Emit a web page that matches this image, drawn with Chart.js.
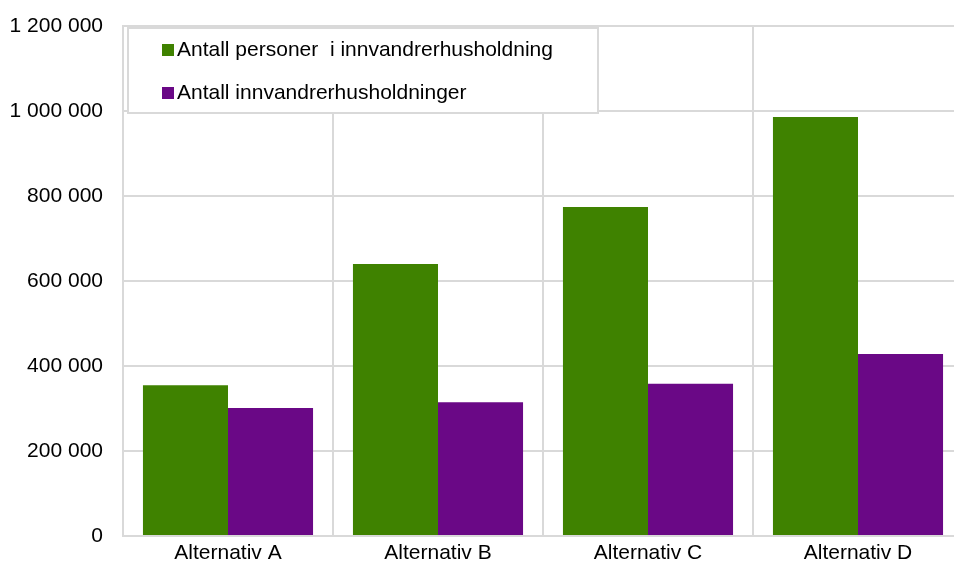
<!DOCTYPE html>
<html lang="no">
<head>
<meta charset="UTF-8">
<title>Innvandrerhusholdninger</title>
<script src="https://cdn.jsdelivr.net/npm/chart.js@4"></script>
<style>
    html, body { margin: 0; padding: 0; background: #fff; overflow: hidden; }
    .wrap { width: 954px; height: 561px; overflow: hidden; position: relative; }
    canvas { display: block; }
</style>
</head>
<body>
<div class="wrap">
    <canvas id="graf" width="965" height="561"></canvas>
</div>
<script>
    const kategorier = ['Alternativ A', 'Alternativ B', 'Alternativ C', 'Alternativ D']
    const personer = [355000, 640000, 774000, 986000]
    const husholdninger = [301000, 315000, 358000, 428000]
    const yTicks = [0, 200000, 400000, 600000, 800000, 1000000, 1200000]

    const gronn = '#3f8200'
    const lilla = '#6a0886'
    const rutenett = '#d9d9d9'
    const skrift = "'Liberation Sans', Arial, sans-serif"

    function formatTall(v) {
        return String(v).replace(/\B(?=(\d{3})+(?!\d))/g, ' ')
    }

    // tegner forklaringen som en hvit boks oppe til venstre i plottet
    const boksForklaring = {
        id: 'boksForklaring',
        afterDraw(chart) {
            const ctx = chart.ctx
            const x = 128, y = 28, w = 470, h = 85
            ctx.save()
            ctx.fillStyle = '#fff'
            ctx.fillRect(x, y, w, h)
            ctx.strokeStyle = rutenett
            ctx.lineWidth = 2
            ctx.strokeRect(x, y, w, h)
            ctx.font = '21px ' + skrift
            ctx.textBaseline = 'middle'
            chart.data.datasets.forEach((ds, i) => {
                const cy = 50 + i * 43
                ctx.fillStyle = ds.backgroundColor
                ctx.fillRect(162, cy - 6, 12, 12)
                ctx.fillStyle = '#000'
                ctx.fillText(ds.label, 177, cy)
            })
            ctx.restore()
        }
    }

    const dados = {
        labels: kategorier,
        datasets: [
            {
                label: 'Antall personer  i innvandrerhusholdning',
                data: personer,
                backgroundColor: gronn,
                categoryPercentage: 0.81,
                barPercentage: 1.0
            },
            {
                label: 'Antall innvandrerhusholdninger',
                data: husholdninger,
                backgroundColor: lilla,
                categoryPercentage: 0.81,
                barPercentage: 1.0
            }
        ]
    }

    const opcoes = {
        responsive: false,
        animation: false,
        layout: { padding: { top: 26, right: 2, left: 0, bottom: 0 } },
        plugins: {
            legend: { display: false },
            tooltip: { enabled: false }
        },
        scales: {
            x: {
                grid: { color: rutenett, lineWidth: 2, drawTicks: false, offset: true },
                border: { color: rutenett, width: 2 },
                ticks: { color: '#000', font: { family: skrift, size: 21 }, padding: 5, maxRotation: 0 },
                afterFit(scale) { scale.height = 25 }
            },
            y: {
                min: 0,
                max: 1200000,
                afterBuildTicks(scale) { scale.ticks = yTicks.map(v => ({ value: v })) },
                grid: { color: rutenett, lineWidth: 2, drawTicks: false },
                border: { color: rutenett, width: 2 },
                ticks: {
                    color: '#000',
                    font: { family: skrift, size: 21 },
                    padding: 20,
                    callback: v => formatTall(v)
                },
                afterFit(scale) {
                    scale.width = 123
                    scale.paddingTop = 0
                    scale.paddingBottom = 0
                }
            }
        }
    }

    new Chart(document.getElementById('graf'), {
        type: 'bar',
        data: dados,
        options: opcoes,
        plugins: [boksForklaring]
    })
</script>
</body>
</html>
